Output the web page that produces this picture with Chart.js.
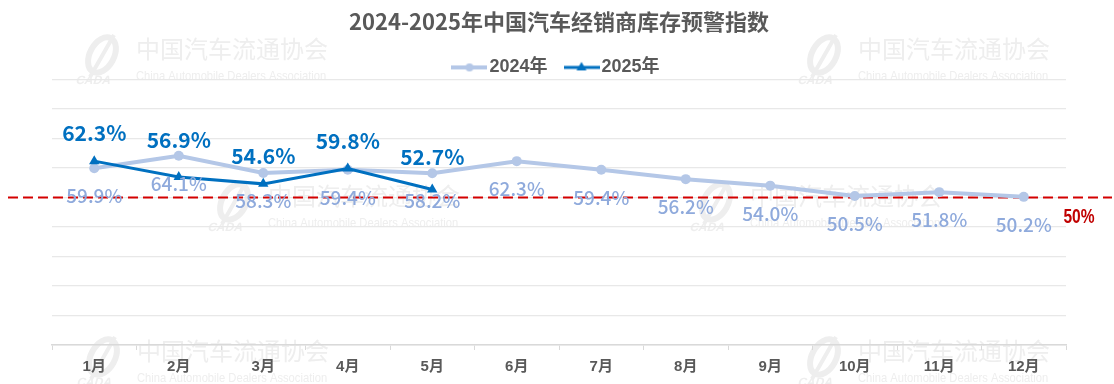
<!DOCTYPE html>
<html>
<head>
<meta charset="utf-8">
<script src="https://cdn.jsdelivr.net/npm/chart.js@4.4.1/dist/chart.umd.min.js"></script>
<style>
  html, body { margin: 0; padding: 0; background: #ffffff; }
  #wrap { width: 1114px; height: 384px; position: relative; }
</style>
</head>
<body>
<div id="wrap"><canvas id="c" width="1114" height="384"></canvas></div>
<script>
const chartTitle = '2024-2025年中国汽车经销商库存预警指数';
const months = ['1月','2月','3月','4月','5月','6月','7月','8月','9月','10月','11月','12月'];
const seriesNames = ['2024年', '2025年'];
const index2024 = [59.9, 64.1, 58.3, 59.4, 58.2, 62.3, 59.4, 56.2, 54.0, 50.5, 51.8, 50.2];
const index2025 = [62.3, 56.9, 54.6, 59.8, 52.7];
const threshold = 50;
const thresholdLabel = '50%';
const yMin = 0, yMax = 90, yStep = 10;
const wmCn = '中国汽车流通协会';
const wmEn = 'China Automobile Dealers Association';

const C24 = '#b4c7e7', C24L = '#8faadc', C25 = '#0070c0', GREY = '#595959';
const CJK = '"Noto Sans CJK SC", "Noto Sans", sans-serif';
const LAT = '"Liberation Sans", "Noto Sans CJK SC", sans-serif';

function makeIcon(color, lw, style) {
  const cv = document.createElement('canvas');
  cv.width = 36; cv.height = 14;
  const g = cv.getContext('2d');
  g.strokeStyle = color; g.lineWidth = lw;
  g.beginPath(); g.moveTo(0, 7); g.lineTo(36, 7); g.stroke();
  g.fillStyle = color;
  g.beginPath();
  if (style === 'circle') { g.arc(18, 7, 4, 0, Math.PI * 2); }
  else { g.moveTo(18, 1.5); g.lineTo(23, 10); g.lineTo(13, 10); g.closePath(); }
  g.fill();
  return cv;
}
const icons = [makeIcon(C24, 4, 'circle'), makeIcon(C25, 3, 'triangle')];

function drawWatermark(ctx, tx, ty) {
  ctx.save();
  ctx.fillStyle = '#eeeeee';
  ctx.strokeStyle = '#eeeeee';
  ctx.save();
  ctx.translate(tx - 34, ty + 12);
  ctx.rotate(0.5);
  ctx.lineWidth = 6;
  ctx.beginPath(); ctx.ellipse(0, 0, 12, 19, 0, 0, Math.PI * 2); ctx.stroke();
  ctx.restore();
  ctx.lineWidth = 4;
  ctx.beginPath(); ctx.moveTo(tx - 22, ty - 8); ctx.lineTo(tx - 46, ty + 34); ctx.stroke();
  ctx.save();
  ctx.translate(tx - 58, ty + 32);
  ctx.transform(1, 0, -0.3, 1, 0, 0);
  ctx.font = 'bold 12px "Liberation Sans"';
  ctx.textBaseline = 'top';
  ctx.fillText('CADA', 0, 0);
  ctx.restore();
  ctx.font = '24px ' + CJK;
  ctx.textBaseline = 'top';
  ctx.textAlign = 'left';
  ctx.fillText(wmCn, tx, ty - 6);
  ctx.save();
  ctx.translate(tx, ty + 27);
  ctx.scale(0.86, 1);
  ctx.font = '13px "Liberation Sans", sans-serif';
  ctx.fillText(wmEn, 0, 0);
  ctx.restore();
  ctx.restore();
}

const watermarkPlugin = {
  id: 'watermarks',
  beforeDraw(chart) {
    const ctx = chart.ctx;
    const spots = [[136, 43], [858, 43], [268, 190], [750, 190], [137, 345], [858, 345]];
    spots.forEach(s => drawWatermark(ctx, s[0], s[1]));
  }
};

const legendFitPlugin = {
  id: 'legendFit',
  beforeInit(chart) {
    const orig = chart.legend.fit;
    chart.legend.fit = function () { orig.call(this); this.height = 44; };
  }
};

const thresholdPlugin = {
  id: 'threshold',
  beforeDatasetsDraw(chart) {
    const ctx = chart.ctx;
    const py = chart.scales.y.getPixelForValue(threshold);
    ctx.save();
    ctx.strokeStyle = '#d40000';
    ctx.lineWidth = 2;
    ctx.setLineDash([10, 5]);
    ctx.beginPath(); ctx.moveTo(8, py); ctx.lineTo(1112, py); ctx.stroke();
    ctx.setLineDash([]);
    ctx.fillStyle = '#c00000';
    ctx.translate(chart.chartArea.right + 13, py + 20);
    ctx.scale(0.74, 1);
    ctx.font = 'bold 21px "Liberation Sans", sans-serif';
    ctx.textAlign = 'center'; ctx.textBaseline = 'middle';
    ctx.fillText(thresholdLabel, 0, 0);
    ctx.restore();
  }
};

const labelPlugin = {
  id: 'valueLabels',
  afterDatasetsDraw(chart) {
    const ctx = chart.ctx;
    const m24 = chart.getDatasetMeta(0).data;
    const m25 = chart.getDatasetMeta(1).data;
    ctx.save();
    ctx.textAlign = 'center'; ctx.textBaseline = 'middle';
    ctx.font = '500 19px ' + CJK;
    ctx.fillStyle = C24L;
    index2024.forEach((v, i) => {
      const p = m24[i];
      ctx.fillText(v.toFixed(1) + '%', p.x, p.y + 28);
    });
    ctx.font = 'bold 21px ' + CJK;
    ctx.fillStyle = C25;
    index2025.forEach((v, i) => {
      const p = m25[i];
      const ly = Math.min(p.y - 28, m24[i].y - 16);
      ctx.fillText(v.toFixed(1) + '%', p.x, ly);
    });
    ctx.restore();
  }
};

new Chart(document.getElementById('c'), {
  type: 'line',
  data: {
    labels: months,
    datasets: [
      {
        label: seriesNames[0], data: index2024, order: 2,
        borderColor: C24, backgroundColor: C24, borderWidth: 4,
        pointStyle: 'circle', pointRadius: 5, pointBorderWidth: 0,
        pointBackgroundColor: C24, tension: 0
      },
      {
        label: seriesNames[1], data: index2025, order: 1,
        borderColor: C25, backgroundColor: C25, borderWidth: 3,
        pointStyle: 'triangle', pointRadius: 6, pointBorderWidth: 0,
        pointBackgroundColor: C25, tension: 0
      }
    ]
  },
  options: {
    responsive: false,
    animation: false,
    events: [],
    layout: { padding: { left: 52, right: 48, top: 0, bottom: 0 } },
    plugins: {
      title: {
        display: true, text: chartTitle, color: GREY,
        font: { family: CJK, size: 22, weight: 'bold' },
        padding: { top: 8, bottom: 1 }
      },
      legend: {
        display: true, position: 'top',
        labels: {
          usePointStyle: true, pointStyleWidth: 22, padding: 23,
          color: GREY, font: { family: LAT, size: 18, weight: 'bold' },
          generateLabels(chart) {
            const items = Chart.defaults.plugins.legend.labels.generateLabels(chart);
            items.sort((a, b) => a.datasetIndex - b.datasetIndex);
            items.forEach(it => { it.pointStyle = icons[it.datasetIndex]; });
            return items;
          }
        }
      },
      tooltip: { enabled: false }
    },
    scales: {
      x: {
        type: 'category', offset: true,
        grid: { display: true, drawOnChartArea: false, drawTicks: true, tickLength: 5, color: '#d9d9d9', offset: true },
        border: { display: true, color: '#d9d9d9', width: 1.5 },
        ticks: { color: GREY, font: { family: LAT, size: 15, weight: 'bold' }, padding: 8, maxRotation: 0 }
      },
      y: {
        min: yMin, max: yMax,
        grid: { color: '#e8e8e8', lineWidth: 1.2, drawTicks: false },
        border: { display: false },
        ticks: { display: false, stepSize: yStep }
      }
    }
  },
  plugins: [watermarkPlugin, legendFitPlugin, thresholdPlugin, labelPlugin]
});
</script>
</body>
</html>
